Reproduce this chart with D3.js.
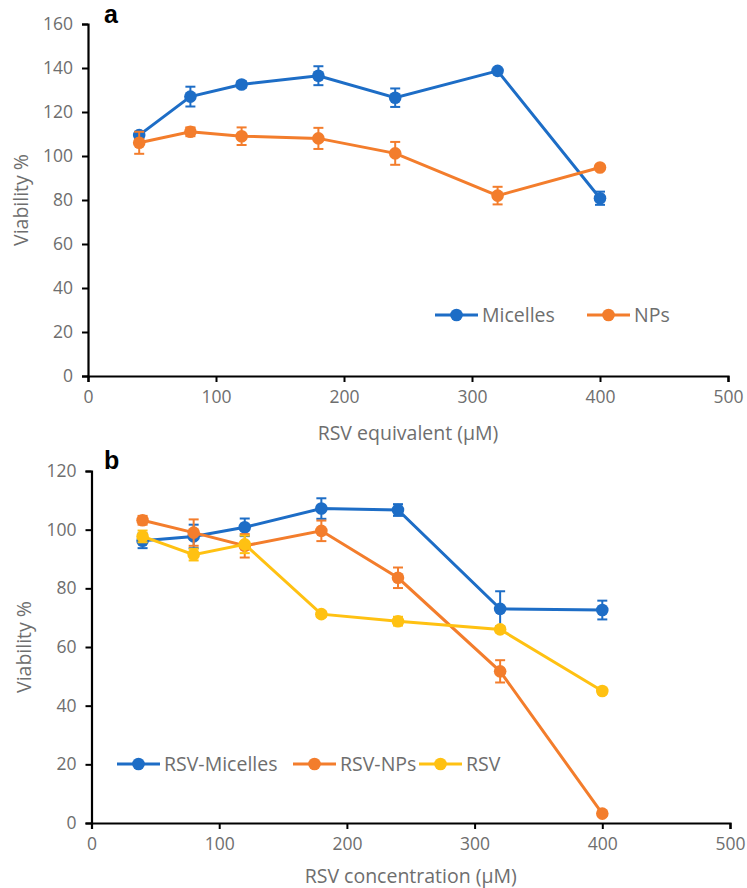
<!DOCTYPE html>
<html>
<head>
<meta charset="utf-8">
<script src="https://cdn.jsdelivr.net/npm/d3@7"></script>
<style>
  html, body { margin: 0; padding: 0; background: #fff; }
  svg { display: block; }
  text { font-family: "Open Sans", "Noto Sans", sans-serif; }
</style>
</head>
<body>
<svg id="chart" width="747" height="888"></svg>
<script>
// ---------- Data ----------
const concentrations = [40, 80, 120, 180, 240, 320, 400];

// Panel a
const aMicelles    = [109.5, 127, 132.5, 136.5, 126.5, 138.7, 80.8];
const aMicellesErr = [1.5, 4.5, 1.5, 4.3, 4.2, 1.0, 3.0];
const aNPs         = [106, 111, 109, 108, 101.2, 82, 94.8];
const aNPsErr      = [5, 2, 4, 4.8, 5.2, 4, 1];

// Panel b
const bMicelles    = [96.2, 97.7, 100.8, 107.2, 106.7, 73, 72.6];
const bMicellesErr = [2.5, 4, 3, 3.5, 2, 6, 3.2];
const bNPs         = [103.2, 99, 94.5, 99.6, 83.6, 51.7, 3.2];
const bNPsErr      = [1.5, 4.5, 4, 3.5, 3.5, 3.8, 0.8];
const bRSV         = [97.7, 91.5, 95, 71.2, 68.8, 66, 45];
const bRSVErr      = [2, 2, 3, 1, 1.5, 1, 1];

const xTicks = [0, 100, 200, 300, 400, 500];
const yTicksA = [0, 20, 40, 60, 80, 100, 120, 140, 160];
const yTicksB = [0, 20, 40, 60, 80, 100, 120];

const BLUE = "#1D6DC6", ORANGE = "#F37D2C", YELLOW = "#FFC112";
const GREY = "#6E6E6E";

const svg = d3.select("#chart");

function panel(opts) {
  const g = svg.append("g");
  const x = d3.scaleLinear().domain([0, 500]).range([opts.x0, opts.x1]);
  const y = d3.scaleLinear().domain([0, opts.ymax]).range([opts.y0, opts.y1]);

  // axes
  const xa = g.append("g").attr("transform", `translate(0,${opts.y0})`)
    .call(d3.axisBottom(x).tickValues(xTicks).tickSize(6).tickPadding(9));
  const ya = g.append("g").attr("transform", `translate(${opts.x0},0)`)
    .call(d3.axisLeft(y).tickValues(opts.yTicks).tickSize(6).tickPadding(9));
  [xa, ya].forEach(a => {
    a.select(".domain").attr("stroke", "#000").attr("stroke-width", 2.2);
    a.selectAll(".tick line").attr("stroke", "#000").attr("stroke-width", 2);
    a.selectAll(".tick text").attr("fill", GREY).style("font-size", "17.5px")
      .style("font-family", '"Open Sans", sans-serif');
  });

  // axis titles
  g.append("text").attr("x", (opts.x0 + opts.x1) / 2).attr("y", opts.xTitleY)
    .attr("text-anchor", "middle").attr("fill", GREY).style("font-size", "19.5px")
    .text(opts.xTitle);
  g.append("text")
    .attr("transform", `translate(${opts.yTitleX},${(opts.y0 + opts.y1) / 2}) rotate(-90)`)
    .attr("text-anchor", "middle").attr("fill", GREY).style("font-size", "19.5px")
    .text("Viability %");

  // panel letter
  g.append("text").attr("x", opts.letterX).attr("y", opts.letterY)
    .style("font-family", '"Liberation Sans", Arial, sans-serif')
    .style("font-weight", "bold").style("font-size", "25px").attr("fill", "#000")
    .text(opts.letter);

  // series
  const line = d3.line().x((d, i) => x(concentrations[i])).y(d => y(d));
  opts.series.forEach(s => {
    const sg = g.append("g");
    sg.append("path").datum(s.values).attr("d", line)
      .attr("fill", "none").attr("stroke", s.color).attr("stroke-width", 3);
    s.values.forEach((v, i) => {
      const cx = x(concentrations[i]);
      const e = s.err[i];
      sg.append("line").attr("x1", cx).attr("x2", cx).attr("y1", y(v - e)).attr("y2", y(v + e))
        .attr("stroke", s.color).attr("stroke-width", 2);
      [v - e, v + e].forEach(t => {
        sg.append("line").attr("x1", cx - 5).attr("x2", cx + 5).attr("y1", y(t)).attr("y2", y(t))
          .attr("stroke", s.color).attr("stroke-width", 2);
      });
      sg.append("circle").attr("cx", cx).attr("cy", y(v)).attr("r", 6.3).attr("fill", s.color);
    });
  });

  // legend
  opts.legend.forEach(l => {
    g.append("line").attr("x1", l.x).attr("x2", l.x + 43).attr("y1", l.y).attr("y2", l.y)
      .attr("stroke", l.color).attr("stroke-width", 3);
    g.append("circle").attr("cx", l.x + 21.5).attr("cy", l.y).attr("r", 6.3).attr("fill", l.color);
    g.append("text").attr("x", l.x + 47).attr("y", l.y).attr("dy", "0.35em")
      .attr("fill", GREY).style("font-size", "19.5px").text(l.label);
  });
}

panel({
  x0: 88, x1: 728, y0: 376, y1: 24, ymax: 160, yTicks: yTicksA,
  xTitle: "RSV equivalent (\u00B5M)", xTitleY: 440, yTitleX: 28,
  letter: "a", letterX: 104, letterY: 23,
  series: [
    { values: aMicelles, err: aMicellesErr, color: BLUE },
    { values: aNPs, err: aNPsErr, color: ORANGE }
  ],
  legend: [
    { x: 435, y: 315, color: BLUE, label: "Micelles" },
    { x: 587, y: 315, color: ORANGE, label: "NPs" }
  ]
});

panel({
  x0: 91.5, x1: 730, y0: 823, y1: 471, ymax: 120, yTicks: yTicksB,
  xTitle: "RSV concentration (\u00B5M)", xTitleY: 883, yTitleX: 31,
  letter: "b", letterX: 104, letterY: 469,
  series: [
    { values: bMicelles, err: bMicellesErr, color: BLUE },
    { values: bNPs, err: bNPsErr, color: ORANGE },
    { values: bRSV, err: bRSVErr, color: YELLOW }
  ],
  legend: [
    { x: 117, y: 764, color: BLUE, label: "RSV-Micelles" },
    { x: 293, y: 764, color: ORANGE, label: "RSV-NPs" },
    { x: 419, y: 764, color: YELLOW, label: "RSV" }
  ]
});
</script>
</body>
</html>
